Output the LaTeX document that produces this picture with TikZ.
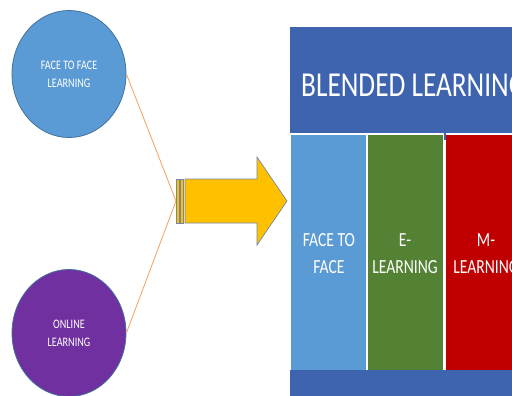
\documentclass[tikz,border=0pt]{standalone}
\usepackage{fontspec}
\usetikzlibrary{shapes.geometric}
\newfontfamily\calfont[FakeStretch=0.78]{Carlito}
\definecolor{headblue}{RGB}{63,100,175}
\definecolor{lightblue}{RGB}{91,155,213}
\definecolor{edgeblue}{RGB}{65,113,156}
\definecolor{leafgreen}{RGB}{84,130,53}
\definecolor{deepred}{RGB}{192,0,0}
\definecolor{violet}{RGB}{112,48,160}
\definecolor{amber}{RGB}{255,192,0}
\definecolor{arrowedge}{RGB}{120,135,160}
\definecolor{linkorange}{RGB}{244,160,90}
\begin{document}
\begin{tikzpicture}[x=1pt,y=-1pt,
  mode/.style={ellipse, draw=edgeblue, line width=0.8pt, minimum width=114pt,
    minimum height=127pt, inner sep=0pt, text=white, align=center,
    font=\calfont\fontsize{13}{17.7}\selectfont},
  link/.style={draw=linkorange, line width=0.8pt},
  column/.style={draw=none, minimum height=235pt, inner sep=0pt, anchor=north west},
  coltext/.style={text=white, align=center, font=\calfont\fontsize{20}{27}\selectfont},
  band/.style={fill=headblue, draw=none}]
\useasboundingbox (0,0) rectangle (512,396);
\clip (0,0) rectangle (512,396);

% the two learning modes
\node[mode, fill=lightblue] (f2f) at (69,74) {FACE TO FACE\\LEARNING};
\node[mode, fill=violet] (online) at (69,333) {ONLINE\\LEARNING};

% they meet at the tail of the arrow
\coordinate (meet) at (176,201);
\draw[link] (f2f.east) -- (meet) -- (online.east);

% striped block arrow
\filldraw[fill=amber, draw=arrowedge, line width=0.7pt]
  (176,179) rectangle (179,223)
  (180.5,179) rectangle (183.5,223);
\filldraw[fill=amber, draw=arrowedge, line width=0.7pt]
  (185,179) -- (257,179) -- (257,157) -- (287,201) -- (257,245)
  -- (257,223) -- (185,223) -- cycle;

% header band
\fill[band] (290,27) rectangle (520,133);
\node[anchor=base west, text=white, inner sep=0pt,
  font=\calfont\fontsize{35}{40}\selectfont] (title) at (301,96) {BLENDED LEARNING};
\fill[band] (443.5,133) rectangle (446,140);

% three columns
\node[column, fill=lightblue, minimum width=75pt] (c1) at (291,135) {};
\node[column, fill=leafgreen, minimum width=75pt] (c2) at (368,135) {};
\node[column, fill=deepred, minimum width=80pt] (c3) at (446,135) {};
\node[coltext, anchor=base] (t1) at (329,273.5) {FACE TO\\FACE};
\node[coltext, anchor=base] (t2) at (405,273.5) {E-\\LEARNING};
\node[coltext, anchor=base] (t3) at (486,273.5) {M-\\LEARNING};

% footer band
\fill[band] (290,370) rectangle (520,396);
\end{tikzpicture}
\end{document}
